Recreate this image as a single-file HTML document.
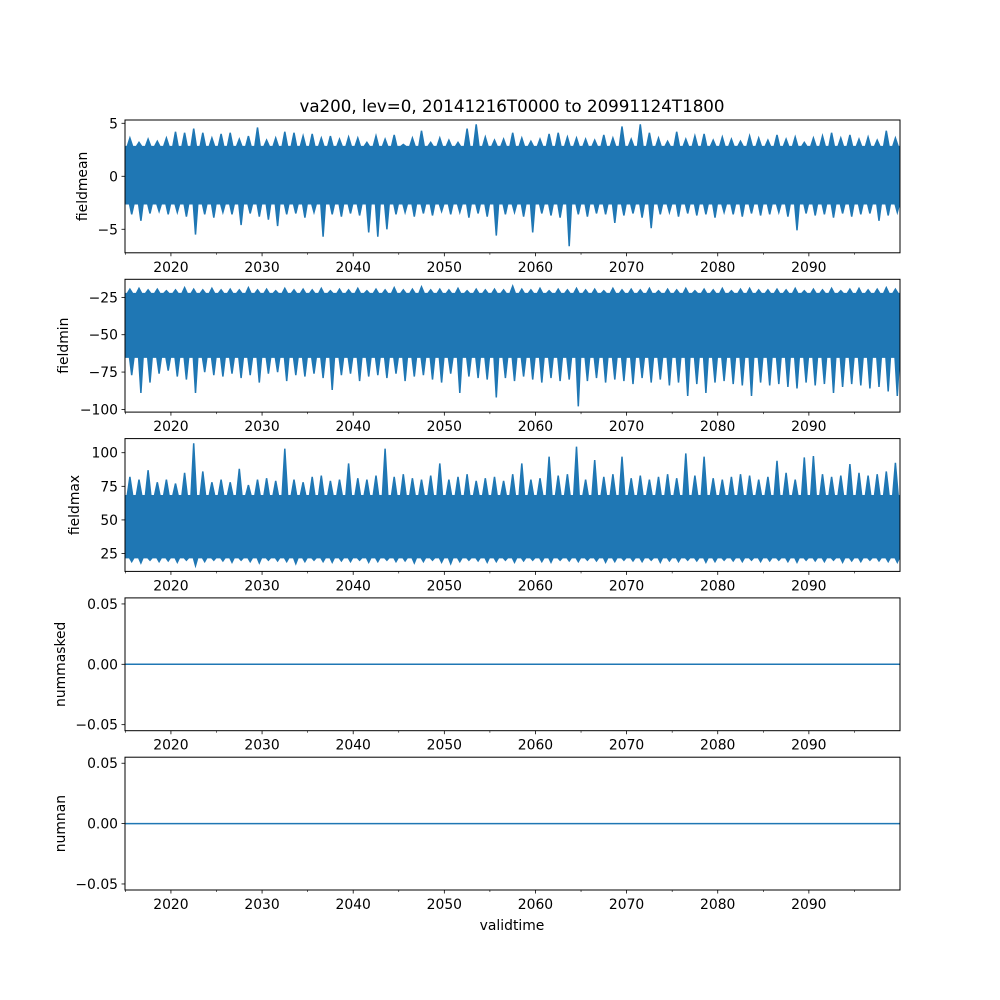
<!DOCTYPE html>
<html><head><meta charset="utf-8"><style>
html,body{margin:0;padding:0;background:#fff;}
svg{display:block;font-family:"DejaVu Sans","Liberation Sans",sans-serif;}
</style></head><body>
<svg id="fig" width="1000" height="1000" viewBox="0 0 1000 1000">
<rect width="1000" height="1000" fill="#fff"/>
<text x="512" y="112" font-size="16.7" text-anchor="middle">va200, lev=0, 20141216T0000 to 20991124T1800</text>
<text x="512" y="930" font-size="13.9" text-anchor="middle">validtime</text>
</svg>
<script>
const years = [2015,2016,2017,2018,2019,2020,2021,2022,2023,2024,2025,2026,2027,2028,2029,2030,2031,2032,2033,2034,2035,2036,2037,2038,2039,2040,2041,2042,2043,2044,2045,2046,2047,2048,2049,2050,2051,2052,2053,2054,2055,2056,2057,2058,2059,2060,2061,2062,2063,2064,2065,2066,2067,2068,2069,2070,2071,2072,2073,2074,2075,2076,2077,2078,2079,2080,2081,2082,2083,2084,2085,2086,2087,2088,2089,2090,2091,2092,2093,2094,2095,2096,2097,2098,2099];
const xTickLabels = [2020,2030,2040,2050,2060,2070,2080,2090];
const xMinorTicks = [2015,2025,2035,2045,2055,2065,2075,2085,2095];

const meanUp = [3.6,3.2,3.5,3.3,3.6,4.2,4.1,4.5,4.1,3.6, 4.0,4.1,3.5,3.8,4.6,3.4,3.6,4.2,4.1,3.8, 4.0,3.6,3.8,3.5,3.7,3.6,3.2,3.8,3.5,3.9, 3.0,3.6,4.3,3.2,3.6,3.4,3.2,4.5,4.9,3.7, 3.4,3.5,4.1,3.6,3.3,3.5,4.0,4.1,3.7,3.6, 3.5,3.4,3.9,3.6,4.7,3.5,4.9,4.1,3.6,3.3, 4.2,3.5,3.8,4.0,3.4,3.7,3.5,3.3,3.8,3.6, 3.4,3.9,3.5,3.7,3.2,3.6,3.8,4.1,3.6,3.9, 3.5,3.7,3.4,4.3,3.6];
const meanLow = [-3.6,-4.2,-3.5,-3.3,-3.6,-3.4,-3.8,-5.5,-3.6,-3.9, -3.4,-3.6,-4.6,-3.5,-3.8,-4.1,-4.7,-3.6,-3.5,-3.9, -3.4,-5.7,-3.6,-3.8,-3.5,-3.7,-5.3,-5.7,-5.0,-3.6, -3.4,-3.8,-3.5,-3.7,-3.3,-3.6,-3.4,-3.9,-3.5,-3.8, -5.6,-3.6,-3.4,-3.8,-5.3,-3.5,-3.7,-3.9,-6.6,-3.6, -3.8,-3.5,-3.6,-4.4,-3.7,-3.5,-3.9,-4.9,-3.6,-3.4, -3.8,-3.5,-3.7,-3.6,-3.9,-3.4,-3.6,-3.8,-3.5,-3.7, -3.6,-3.4,-3.8,-5.1,-3.5,-3.7,-3.6,-3.9,-3.5,-3.8, -3.6,-3.5,-4.2,-3.7,-3.4];
const meanCore = [-2.6, 2.8];

const minUp = [-19.5,-19,-20,-19.5,-20.5,-20,-18.5,-19.5,-20,-19, -20,-19.5,-20,-18.5,-20,-19.5,-20.5,-19,-20,-19.5, -20,-19,-20.5,-19.5,-20,-19,-20.5,-19.5,-20,-18.5, -20,-19.5,-18,-20,-19.5,-20,-19,-20.5,-19.5,-20, -19.5,-20,-17.5,-19.5,-20,-19,-20.5,-19.5,-20,-19, -20,-19.5,-20.5,-19,-20,-19.5,-20,-19,-20.5,-19.5, -20,-19,-20.5,-19.5,-20,-19,-20.5,-19.5,-19,-20, -20,-19.5,-20,-19,-20.5,-19.5,-20,-19,-20.5,-19.5, -19,-20,-19.5,-18.5,-19.5];
const minLow = [-77,-89,-82,-76,-74,-78,-80,-89,-75,-77, -78,-76,-79,-77,-82,-76,-75,-81,-77,-78, -76,-79,-87,-77,-76,-81,-78,-77,-79,-76, -81,-78,-77,-80,-82,-76,-89,-78,-79,-80, -92,-79,-81,-78,-80,-82,-79,-81,-80,-98, -81,-79,-82,-80,-81,-83,-79,-82,-80,-84, -82,-91,-83,-89,-82,-81,-83,-84,-91,-82, -84,-83,-85,-86,-82,-84,-83,-89,-85,-83, -84,-86,-85,-88,-91];
const minCore = [-65, -22.5];

const maxUp = [82,80,87,78,80,77,85,107,86,78, 80,78,88,76,80,81,79,103,80,78, 82,83,79,80,92,81,80,83,103,82, 84,81,80,83,92,80,82,84,79,81, 82,79,84,92,80,81,97,83,84,104.5, 80,94.5,82,84,97,81,83,80,82,84, 81,99.5,83,97,81,80,82,84,83,80, 82,94,85,80,96.5,97.5,84,82,83,91.5, 85,83,84,86,92.5];
const maxLow = [19,18,20,19,19.5,18.5,20,16,19,20, 19.5,18.5,20,19,18,20,19.5,19,17.5,19, 20,19,18.5,19.5,19,20,18.5,19,20,19, 19.5,18,19,20,18.5,17.5,19,20,19.5,18.5, 19,20,18.5,19.5,20,19,18.5,20,19.5,19, 20,19.5,18.5,19,20,19.5,19,20,18.5,19.5, 19,20,19.5,18.5,19,20,19.5,19,20,19, 19.5,20,19,18.5,20,19.5,19,20,18.5,19.5, 19,20,19.5,19,18.5];
const maxCore = [22, 68];

const zeroSeries = [0, 0];

const meanTicks = [5, 0, -5];
const minTicks = [-25, -50, -75, -100];
const maxTicks = [100, 75, 50, 25];
const zeroTicks = [0.05, 0.00, -0.05];
const zeroTickLabels = ["0.05", "0.00", "\u22120.05"];

const NS = "http://www.w3.org/2000/svg";
const svg = document.getElementById("fig");
const X0 = 125, X1 = 900, XMIN = 2014.96, XMAX = 2100.0;
const COLOR = "#1f77b4";
function xs(v){ return X0 + (v - XMIN) / (XMAX - XMIN) * (X1 - X0); }
function mk(tag, attrs, parent){ const e = document.createElementNS(NS, tag); for (const k in attrs) e.setAttribute(k, attrs[k]); (parent||svg).appendChild(e); return e; }
function fmt(v){ return (v < 0 ? "\u2212" + Math.abs(v) : "" + v); }

const panels = [
  {name:"fieldmean", top:120, ymin:-7.22, ymax:5.31, ticks:meanTicks, labels:meanTicks.map(fmt), up:meanUp, low:meanLow, core:meanCore, labelX:82},
  {name:"fieldmin", top:279.3, ymin:-101.8, ymax:-12.9, ticks:minTicks, labels:minTicks.map(fmt), up:minUp, low:minLow, core:minCore, labelX:63},
  {name:"fieldmax", top:438.6, ymin:11.7, ymax:110.5, ticks:maxTicks, labels:maxTicks.map(fmt), up:maxUp, low:maxLow, core:maxCore, labelX:74},
  {name:"nummasked", top:597.9, ymin:-0.055, ymax:0.055, ticks:zeroTicks, labels:zeroTickLabels, zero:true, labelX:60},
  {name:"numnan", top:757.2, ymin:-0.055, ymax:0.055, ticks:zeroTicks, labels:zeroTickLabels, zero:true, labelX:60}
];
const H = 132.8;

panels.forEach((p, idx) => {
  const g = mk("g", {});
  
  
  const bot = p.top + H;
  const ys = v => bot - (v - p.ymin) / (p.ymax - p.ymin) * H;
  const cid = "clip" + idx;
  const cp = mk("clipPath", {id: cid}, g);
  mk("rect", {x: X0, y: p.top, width: X1 - X0, height: H}, cp);

  if (p.zero) {
    const ln = mk("line", {x1: X0, x2: X1, y1: ys(zeroSeries[0]), y2: ys(zeroSeries[1]), stroke: COLOR, "stroke-width": 1.5, "clip-path": "url(#" + cid + ")"}, g);
    
    
  } else {
    let pts = [[xs(XMIN), ys(p.core[1])]];
    years.forEach((yr, i) => {
      pts.push([xs(yr + 0.2), ys(p.core[1])]);
      pts.push([xs(yr + 0.5), ys(p.up[i])]);
      pts.push([xs(yr + 0.8), ys(p.core[1])]);
    });
    pts.push([xs(XMAX), ys(p.core[1])]);
    pts.push([xs(XMAX), ys(p.core[0])]);
    for (let i = years.length - 1; i >= 0; i--) {
      pts.push([xs(years[i] + 0.95), ys(p.core[0])]);
      pts.push([xs(years[i] + 0.7), ys(p.low[i])]);
      pts.push([xs(years[i] + 0.45), ys(p.core[0])]);
    }
    pts.push([xs(XMIN), ys(p.core[0])]);
    const poly = mk("polygon", {points: pts.map(q => q[0].toFixed(1) + "," + q[1].toFixed(1)).join(" "), fill: COLOR, stroke: COLOR, "stroke-width": 1.5, "stroke-linejoin": "miter", "clip-path": "url(#" + cid + ")"}, g);
    
    
  }

  const frame = mk("rect", {x: X0, y: p.top, width: X1 - X0, height: H, fill: "none", stroke: "#000", "stroke-width": 1}, g);
  
  

  p.ticks.forEach((t, i) => {
    const y = ys(t);
    mk("line", {x1: X0 - 3.5, x2: X0, y1: y, y2: y, stroke: "#000", "stroke-width": 0.8}, g);
    const tx = mk("text", {x: X0 - 7, y: y + 5, "font-size": 13.9, "text-anchor": "end"}, g);
    tx.textContent = p.labels[i];
    
    
  });

  xTickLabels.forEach(t => {
    const x = xs(t);
    mk("line", {x1: x, x2: x, y1: bot, y2: bot + 3.5, stroke: "#000", "stroke-width": 0.8}, g);
    const tx = mk("text", {x: x, y: bot + 19, "font-size": 13.9, "text-anchor": "middle"}, g);
    tx.textContent = t;
    
    
  });
  xMinorTicks.forEach(t => {
    const x = xs(t);
    mk("line", {x1: x, x2: x, y1: bot, y2: bot + 2, stroke: "#000", "stroke-width": 0.6}, g);
  });

  const yl = mk("text", {x: 0, y: 0, "font-size": 13.9, "text-anchor": "middle", transform: "translate(" + (p.labelX + 5) + "," + (p.top + H / 2) + ") rotate(-90)"}, g);
  yl.textContent = p.name;
  
  
});
</script>
</body></html>
